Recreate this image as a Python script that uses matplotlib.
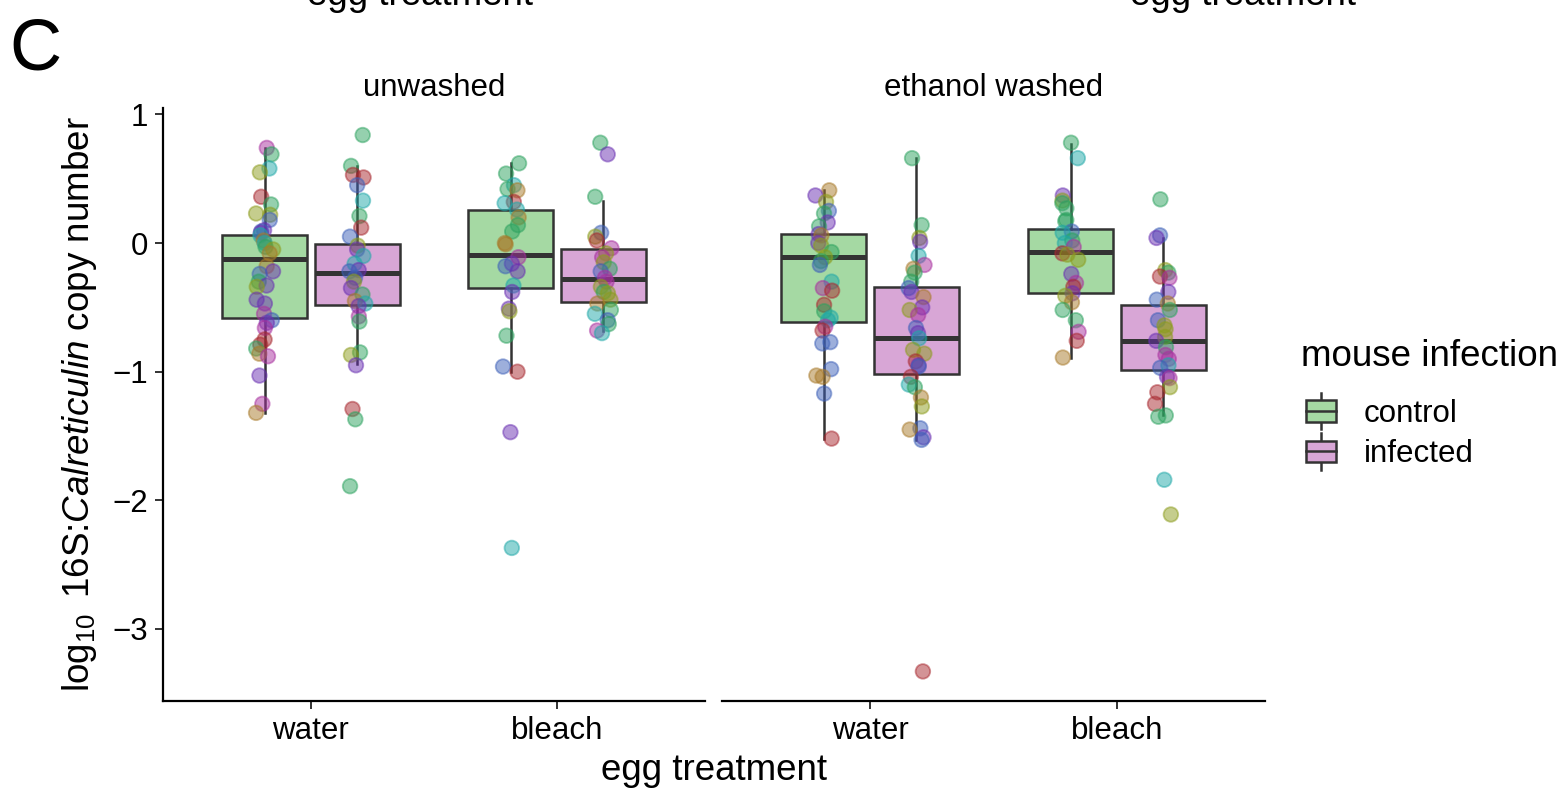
import matplotlib
matplotlib.use("Agg")
import matplotlib.pyplot as plt
import numpy as np
from matplotlib.patches import Rectangle, Patch
from matplotlib.lines import Line2D
from matplotlib.legend_handler import HandlerBase

plt.rcParams['font.family'] = ['Liberation Sans', 'DejaVu Sans']
plt.rcParams['mathtext.fontset'] = 'custom'
plt.rcParams['mathtext.rm'] = 'Liberation Sans'
plt.rcParams['mathtext.it'] = 'Liberation Sans:italic'

# ---- data ----
panels = ['unwashed', 'ethanol washed']
treatments = ['water', 'bleach']
infections = ['control', 'infected']

# points per group (panel, treatment, infection) and a colour code per point (mouse)
uw_water_ctrl = [0.74, 0.69, 0.58, 0.55, 0.36, 0.30, 0.23, 0.22, 0.18, 0.10, 0.09, 0.08, 0.06,
                 0.02, 0.00, -0.03, -0.05, -0.08, -0.18, -0.22, -0.24, -0.30, -0.33, -0.34,
                 -0.44, -0.47, -0.55, -0.60, -0.62, -0.66, -0.75, -0.79, -0.82, -0.86, -0.88,
                 -1.03, -1.25, -1.32]
uw_water_ctrl_col = "mgtvrgvvbpbptotgvoopbgpvppmbpmrrgompmo"
uw_water_inf = [0.84, 0.60, 0.53, 0.51, 0.45, 0.33, 0.21, 0.12, 0.05, -0.02, -0.05, -0.10,
                -0.16, -0.21, -0.22, -0.27, -0.30, -0.35, -0.40, -0.45, -0.47, -0.49, -0.57,
                -0.61, -0.85, -0.87, -0.95, -1.29, -1.37, -1.89]
uw_water_inf_col = "ggrrbtgrbvpttpbbvpgotpmggvprgg"
uw_bleach_ctrl = [0.62, 0.54, 0.45, 0.42, 0.41, 0.32, 0.31, 0.26, 0.20, 0.14, 0.09, 0.00,
                  -0.01, -0.11, -0.16, -0.18, -0.22, -0.33, -0.38, -0.51, -0.53, -0.72,
                  -0.96, -1.00, -1.47, -2.37]
uw_bleach_ctrl_col = "ggtgortto" + "ggoompbptppvgbrpt"
uw_bleach_inf = [0.78, 0.69, 0.36, 0.08, 0.05, 0.02, -0.04, -0.08, -0.11, -0.15, -0.20,
                 -0.22, -0.27, -0.30, -0.34, -0.38, -0.39, -0.44, -0.47, -0.52, -0.55, -0.60,
                 -0.63, -0.68, -0.70]
uw_bleach_inf_col = "gpgbvrmvmvgbmmvgvvogtbgmt"
ew_water_ctrl = [0.41, 0.37, 0.32, 0.25, 0.23, 0.16, 0.13, 0.07, 0.06, 0.00, -0.02, -0.07,
                 -0.11, -0.14, -0.17, -0.30, -0.35, -0.37, -0.48, -0.53, -0.58, -0.60, -0.65,
                 -0.68, -0.77, -0.78, -0.98, -1.03, -1.04, -1.17, -1.52]
ew_water_ctrl_col = "opvbgpgpopvgvgbtmrrgttmrbbboobr"
ew_water_inf = [0.66, 0.14, 0.04, 0.01, -0.10, -0.17, -0.20, -0.23, -0.30, -0.35, -0.38,
                -0.42, -0.50, -0.52, -0.56, -0.66, -0.70, -0.74, -0.83, -0.86, -0.92, -0.95,
                -0.96, -1.04, -1.10, -1.12, -1.20, -1.27, -1.44, -1.45, -1.51, -1.53, -3.33]
ew_water_inf_col = "ggvptmoggbpopvmbptvvrpbrtgovbopbr"
ew_bleach_ctrl = [0.78, 0.66, 0.37, 0.33, 0.31, 0.27, 0.18, 0.17, 0.09, 0.08, 0.02, 0.00,
                  -0.03, -0.08, -0.09, -0.13, -0.24, -0.31, -0.34, -0.39, -0.41, -0.46, -0.52,
                  -0.60, -0.69, -0.76, -0.89]
ew_bleach_ctrl_col = "gtpvggggbtgtmrvvpmrpvoggmro"
ew_bleach_inf = [0.34, 0.06, 0.04, -0.21, -0.23, -0.26, -0.27, -0.38, -0.44, -0.47, -0.52,
                 -0.60, -0.64, -0.67, -0.73, -0.76, -0.81, -0.87, -0.90, -0.95, -0.97, -1.04,
                 -1.05, -1.12, -1.16, -1.25, -1.34, -1.35, -1.84, -2.11]
ew_bleach_inf_col = "gbpvgrmpbogbvvvpgmmtbpmvrrggtv"

# box statistics: q1, median, q3, lower whisker, upper whisker
box_q1 = [-0.58, -0.48, -0.35, -0.455, -0.61, -1.02, -0.39, -0.99]
box_med = [-0.12, -0.23, -0.09, -0.28, -0.11, -0.74, -0.07, -0.76]
box_q3 = [0.06, -0.01, 0.26, -0.05, 0.07, -0.34, 0.11, -0.48]
box_lo = [-1.32, -0.94, -1.00, -0.68, -1.52, -1.53, -0.89, -1.34]
box_hi = [0.74, 0.60, 0.62, 0.33, 0.41, 0.66, 0.77, 0.04]

groups = [
    (uw_water_ctrl, uw_water_ctrl_col), (uw_water_inf, uw_water_inf_col),
    (uw_bleach_ctrl, uw_bleach_ctrl_col), (uw_bleach_inf, uw_bleach_inf_col),
    (ew_water_ctrl, ew_water_ctrl_col), (ew_water_inf, ew_water_inf_col),
    (ew_bleach_ctrl, ew_bleach_ctrl_col), (ew_bleach_inf, ew_bleach_inf_col),
]

# ---- styles ----
fill_colors = {'control': '#a5d9a3', 'infected': '#d8a6d6'}
mouse_colors = {'g': '#2ca25f', 't': '#1fa8a8', 'b': '#3d60b8', 'p': '#6a30b2',
                'm': '#a8309f', 'r': '#a8282f', 'o': '#a87a2a', 'v': '#8c9c1c'}
edge = '#333333'
small = 22.5
big = 26.5


class BoxHandler(HandlerBase):
    def create_artists(self, legend, orig_handle, xdescent, ydescent, width, height,
                       fontsize, trans):
        x0, y0 = -xdescent, -ydescent
        cx = x0 + width / 2
        w = width
        h = height * 0.95
        bx = cx - w / 2
        by = y0 + (height - h) / 2
        whisk = Line2D([cx, cx], [y0 - height * 0.3, y0 + height * 1.3],
                       color=edge, lw=1.8, transform=trans)
        box = Rectangle((bx, by), w, h, facecolor=orig_handle.get_facecolor(),
                        edgecolor=edge, lw=1.8, transform=trans)
        mid = Line2D([bx, bx + w], [y0 + height / 2] * 2, color=edge, lw=1.8,
                     transform=trans)
        return [whisk, box, mid]


fig = plt.figure(figsize=(15.64, 7.92), dpi=100)
ax_l = fig.add_axes([163 / 1564, 91 / 792, 542 / 1564, 593 / 792])
ax_r = fig.add_axes([722 / 1564, 91 / 792, 543 / 1564, 593 / 792], sharey=ax_l)
axes = [ax_l, ax_r]

rng = np.random.default_rng(7)
offset = 0.1875
bw = 0.345

k = 0
for pi, ax in enumerate(axes):
    for ti, tr in enumerate(treatments):
        for ii, inf in enumerate(infections):
            pos = ti + 1 + (offset if ii else -offset)
            stats = [dict(q1=box_q1[k], med=box_med[k], q3=box_q3[k],
                          whislo=box_lo[k], whishi=box_hi[k], fliers=[])]
            ax.bxp(stats, positions=[pos], widths=bw, patch_artist=True,
                   showfliers=False, showcaps=False,
                   boxprops=dict(facecolor=fill_colors[inf], edgecolor=edge, lw=1.8),
                   whiskerprops=dict(color=edge, lw=1.8),
                   medianprops=dict(color=edge, lw=3.6, solid_capstyle='butt'),
                   zorder=2)
            vals, cols = groups[k]
            xs = pos + rng.uniform(-0.035, 0.035, len(vals))
            cs = [mouse_colors[c] for c in cols[:len(vals)]]
            ax.scatter(xs, vals, s=110, c=cs, alpha=0.5, edgecolors=cs,
                       linewidths=1.3, zorder=3)
            k += 1

    ax.set_xlim(0.4, 2.6)
    ax.set_xticks([1, 2])
    ax.set_xticklabels(treatments)
    ax.text(0.5, 1.02, panels[pi], transform=ax.transAxes, ha='center',
            va='baseline', fontsize=small)
    for s in ['top', 'right']:
        ax.spines[s].set_visible(False)
    ax.spines['bottom'].set_linewidth(1.6)
    ax.spines['left'].set_linewidth(1.6)
    ax.tick_params(axis='both', labelsize=small, length=6, width=1.4, pad=5, color='#333333')

ax_l.set_ylim(-3.56, 1.05)
ax_l.set_yticks([1, 0, -1, -2, -3])
ax_r.spines['left'].set_visible(False)
ax_r.tick_params(axis='y', left=False, labelleft=False)

fig.text(714 / 1564, 22 / 792, 'egg treatment', ha='center', va='center', fontsize=big)
fig.text(80 / 1564, 1 - 404 / 792, r'$\log_{10}$ 16S:$\mathit{Calreticulin}$ copy number',
         rotation=90, ha='center', va='center', fontsize=big)
fig.text(9 / 1564, 1 - 70 / 792, 'C', fontsize=52, va='baseline', ha='left')
# titles of the panel above, cut off by the top edge as in the source figure
fig.text(420 / 1564, 1 - 5 / 792, 'egg treatment', ha='center', va='baseline', fontsize=big)
fig.text(1243 / 1564, 1 - 5 / 792, 'egg treatment', ha='center', va='baseline', fontsize=big)

# legend: title placed as text, entries with box glyphs
fig.text(1301 / 1564, 1 - 356 / 792, 'mouse infection', ha='left', va='center', fontsize=big)
handles = [Patch(facecolor=fill_colors[i], edgecolor=edge) for i in infections]
leg = fig.legend(handles, infections, loc='upper left',
                 bbox_to_anchor=(1306 / 1564, 1 - 399 / 792), frameon=False,
                 fontsize=small, handler_map={Patch: BoxHandler()},
                 handlelength=0.95, handleheight=0.75, handletextpad=0.9,
                 labelspacing=0.33, borderaxespad=0, borderpad=0)

fig.savefig('out.png', dpi=100)
